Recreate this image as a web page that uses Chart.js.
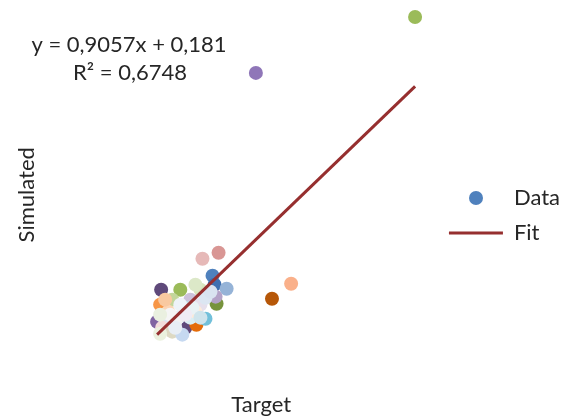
<!DOCTYPE html>
<html>
<head>
<meta charset="utf-8">
<title>Target vs Simulated</title>
<script src="https://cdn.jsdelivr.net/npm/chart.js@4.4.0/dist/chart.umd.min.js"></script>
<style>
  body { margin: 0; background: #fff; }
  #wrap { width: 565px; height: 416px; }
</style>
</head>
<body>
<div id="wrap"><canvas id="graficoScatter" width="565" height="416"></canvas></div>
<script>
// valori (Target = x, Simulated = y)
const targetValues = [0.75, 0.94, 0.74, 0.71, 0.99, 1.10, 1.19, 1.26, 1.28, 1.40, 1.30, 1.29,
  1.16, 1.32, 1.85, 2.04, 1.69, 3.27,
  0.86, 1.14, 1.04, 0.99, 0.82, 0.79, 0.92, 0.76, 0.86, 1.04, 1.14, 0.74, 0.96, 1.09, 1.19, 0.89,
  0.79, 1.09, 1.24, 0.94, 0.84, 1.06, 0.99, 0.74, 0.89, 1.14];
const simulatedValues = [1.244, 1.244, 1.104, 0.945, 0.889, 0.917, 0.973, 1.375, 1.291, 1.253, 1.113, 1.179,
  1.533, 1.589, 1.160, 1.300, 3.269, 3.791,
  1.151, 1.244, 1.151, 1.076, 1.039, 0.964, 0.983, 0.889, 0.852, 0.983, 1.104, 0.833, 0.824, 1.039, 1.169, 0.945,
  1.151, 1.291, 1.225, 1.104, 1.011, 1.076, 1.011, 1.011, 0.889, 0.983];
const pointColors = ['#5F497A', '#9BBB59', '#F79646', '#8064A2', '#604A7B', '#E46C0A', '#72C0DA', '#4F81BD',
  '#3E6FB0', '#95B3D7', '#77933C', '#B3A2C7', '#E6B9B8', '#D99694', '#B65708', '#FAB08A', '#8F76B8', '#9BBB59',
  '#C3D69B', '#D7E4BD', '#CCC1DA', '#B7DEE8', '#FCD5B5', '#DCE6F2', '#E6EEF6', '#F2DCDB', '#DDD9C3', '#DAEEF3',
  '#E6E0EC', '#EBF1DE', '#C6D9F1', '#FDEADA', '#DCE6F2', '#F2F2F2',
  '#F9C9A0', '#DCE8C8', '#D9E3F0', '#EEF3F8', '#F5F5F5', '#E9F2F5', '#F0EBF4', '#EAF0E0', '#E8EEF5', '#CFE4EC'];

// retta di regressione: y = 0,9057x + 0,181 tra min e max di Target
const fitTarget = [0.71, 3.27];
const fitSimulated = [0.824, 3.143];
const fitLabel = 'y = 0,9057x + 0,181';
const r2Label = 'R\u00B2 = 0,6748';

const FONT = 'Lato';
const TEXT_COLOR = '#262626';

// pallino blu per la legenda
const dot = document.createElement('canvas');
dot.width = 14;
dot.height = 14;
const dctx = dot.getContext('2d');
dctx.fillStyle = '#4F81BD';
dctx.beginPath();
dctx.arc(7, 7, 7, 0, Math.PI * 2);
dctx.fill();

// scrive equazione e R² in alto a sinistra
const equationPlugin = {
  id: 'equation',
  afterDraw(chart) {
    const ctx = chart.ctx;
    ctx.save();
    ctx.font = '22px ' + FONT;
    ctx.fillStyle = TEXT_COLOR;
    ctx.textAlign = 'center';
    ctx.textBaseline = 'middle';
    ctx.fillText(fitLabel, 129, 45);
    ctx.fillText(r2Label, 130, 73);
    ctx.restore();
  }
};

const scatterData = targetValues.map((x, i) => ({ x: x, y: simulatedValues[i] }));
const fitData = fitTarget.map((x, i) => ({ x: x, y: fitSimulated[i] }));

var scattergraph = new Chart(document.getElementById('graficoScatter'), {
  type: 'scatter',
  data: {
    datasets: [{
      label: 'Data',
      data: scatterData,
      backgroundColor: pointColors,
      borderWidth: 0,
      pointRadius: 7,
      pointHoverRadius: 7,
      clip: false,
      order: 1
    }, {
      label: 'Fit',
      type: 'line',
      data: fitData,
      borderColor: '#962f2f',
      borderWidth: 3,
      pointRadius: 0,
      fill: false,
      clip: false,
      order: 0
    }]
  },
  options: {
    responsive: false,
    animation: false,
    devicePixelRatio: 1,
    layout: {
      padding: { top: 15, right: -5, bottom: 0, left: 0 }
    },
    scales: {
      x: {
        type: 'linear',
        min: 0.0083,
        max: 3.477,
        grid: { display: false, drawTicks: false },
        border: { display: false },
        ticks: { display: false },
        title: {
          display: true,
          text: 'Target',
          color: TEXT_COLOR,
          font: { family: FONT, size: 22 },
          padding: { top: 17, bottom: -2 }
        }
      },
      y: {
        type: 'linear',
        min: 0.4508,
        max: 3.8099,
        grid: { display: false, drawTicks: false },
        border: { display: false },
        ticks: { display: false },
        title: {
          display: true,
          text: 'Simulated',
          color: TEXT_COLOR,
          font: { family: FONT, size: 22 },
          padding: { top: 14, bottom: 46 }
        }
      }
    },
    plugins: {
      tooltip: { enabled: false },
      legend: {
        position: 'right',
        labels: {
          usePointStyle: true,
          pointStyleWidth: 54,
          padding: 13,
          color: TEXT_COLOR,
          font: { family: FONT, size: 22 },
          generateLabels: () => [
            { text: 'Data', pointStyle: dot, fillStyle: '#4F81BD', strokeStyle: '#4F81BD', lineWidth: 0, datasetIndex: 0, fontColor: TEXT_COLOR },
            { text: 'Fit', pointStyle: 'line', fillStyle: '#962f2f', strokeStyle: '#962f2f', lineWidth: 3, datasetIndex: 1, fontColor: TEXT_COLOR }
          ]
        }
      }
    }
  },
  plugins: [equationPlugin]
});
</script>
</body>
</html>
